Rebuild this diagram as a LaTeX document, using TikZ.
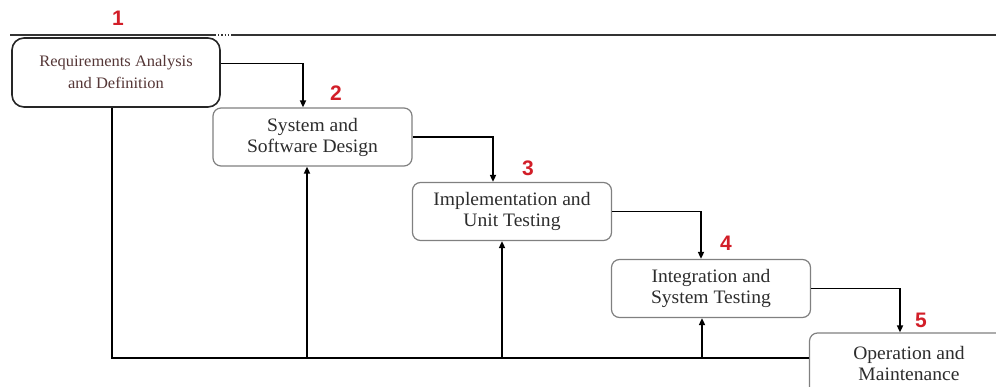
\documentclass[tikz,border=0pt]{standalone}
\usepackage{fontspec}
\setmainfont[FakeStretch=1.03]{Liberation Serif}
\newfontfamily\numfont{Liberation Sans}
\usetikzlibrary{arrows.meta}
\definecolor{boxtext}{RGB}{45,45,45}
\definecolor{reqtext}{RGB}{85,55,55}
\definecolor{steprd}{RGB}{210,30,40}
\begin{document}
\begin{tikzpicture}[x=1pt,y=-1pt,line width=1.6pt,>={Triangle[length=7pt,width=6pt]}]
\tikzstyle{phase}=[draw=gray, line width=1.2pt, rounded corners=8pt, fill=white, align=center,
    text=boxtext, font=\fontsize{19}{21}\selectfont, minimum width=199pt, minimum height=58pt]
\tikzstyle{stepno}=[text=steprd, font=\numfont\bfseries\fontsize{21}{21}\selectfont]

\useasboundingbox (0,0) rectangle (996,387);
\clip (0,0) rectangle (996,387);

% page rule
\draw[line width=1.2pt, black!80] (10,35) -- (215,35);
\draw[line width=1.2pt, black!80, dotted] (215,35) -- (232,35);
\draw[line width=1.2pt, black!80] (232,35) -- (996,35);

\node[phase, draw=black!85, line width=1.6pt, rounded corners=12pt, text=reqtext,
    font=\fontsize{16}{22}\selectfont, minimum width=208pt, minimum height=69pt]
    (req) at (116,72.5) {Requirements Analysis\\and Definition};
\node[phase] (design) at (312.5,137) {System and\\Software Design};
\node[phase] (impl) at (512,211.5) {Implementation and\\Unit Testing};
\node[phase] (integ) at (711,288.5) {Integration and\\System Testing};
\node[phase, minimum height=62pt] (oper) at (909,364) {Operation and\\Maintenance};

\node[stepno] (n1) at (118,18) {1};
\node[stepno] (n2) at (336,93) {2};
\node[stepno] (n3) at (528,168) {3};
\node[stepno] (n4) at (726,243) {4};
\node[stepno] (n5) at (921,320) {5};

\coordinate (base) at (0,358);

% forward steps
\draw[->] ([yshift=9pt]req.east) -| ([xshift=-9.5pt]design.north);
\draw[->] (design.east) -| ([xshift=-19pt]impl.north);
\draw[->] (impl.east) -| ([xshift=-10pt]integ.north);
\draw[->] (integ.east) -| ([xshift=-9pt]oper.north);

% feedback
\draw ([xshift=-4pt]req.south) |- (oper.west |- base);
\draw[->] ([xshift=-5.5pt]design.south |- base) -- ([xshift=-5.5pt]design.south);
\draw[->] ([xshift=-10pt]impl.south |- base) -- ([xshift=-10pt]impl.south);
\draw[->] ([xshift=-9pt]integ.south |- base) -- ([xshift=-9pt]integ.south);
\end{tikzpicture}
\end{document}
